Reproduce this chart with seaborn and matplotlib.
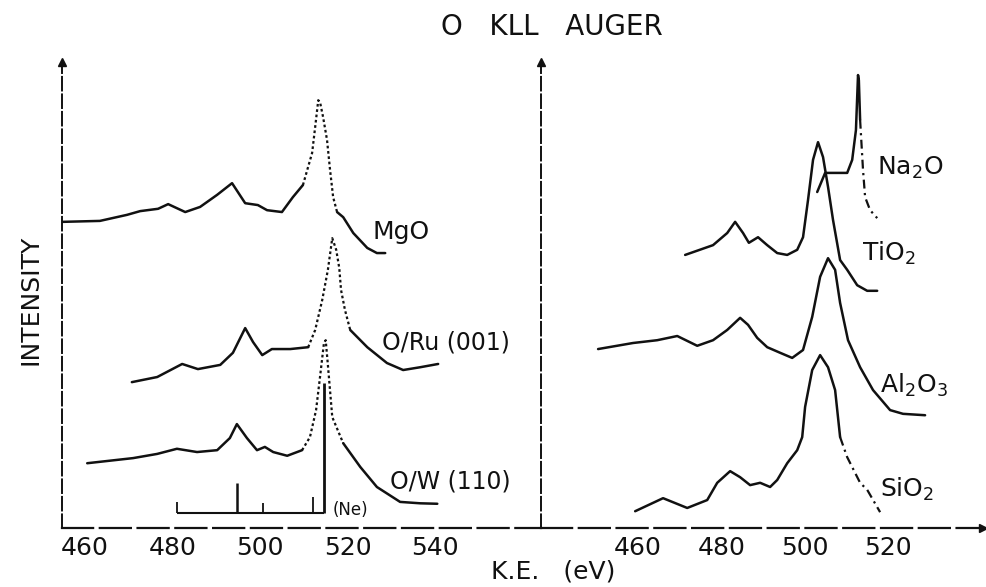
import matplotlib
matplotlib.use("Agg")
import matplotlib.pyplot as plt
import pandas as pd
import seaborn as sns

# ---------------- O KLL Auger spectra (kinetic energy in eV, stacked intensity in a.u.)
# left panel
mgo_energy = [455.0, 463.4, 469.6, 472.6, 476.7, 479.0, 482.9, 486.3, 490.2, 493.6,
              496.6, 499.5, 501.6, 505.0, 507.5, 509.8, 511.9, 512.6, 513.3, 513.7,
              514.4, 515.3, 516.0, 516.7, 517.6, 519.0, 521.3, 524.5, 526.7, 528.6]
mgo_intensity = [65.7, 65.9, 67.2, 68.0, 68.5, 69.5, 67.8, 68.9, 71.5, 74.0,
                 69.7, 69.3, 68.2, 67.8, 71.0, 73.6, 80.5, 86.1, 91.8, 91.4,
                 88.2, 83.3, 76.8, 71.0, 67.8, 66.7, 63.3, 60.1, 59.0, 59.0]

oru_energy = [470.7, 476.5, 482.2, 485.8, 490.9, 493.8, 496.6, 498.4, 500.5, 502.7,
              506.9, 511.0, 512.6, 514.2, 515.5, 516.5, 517.4, 518.1, 518.5, 519.4,
              520.6, 524.5, 529.0, 532.7, 536.6, 540.7]
oru_intensity = [31.3, 32.4, 35.2, 34.1, 35.0, 37.6, 42.9, 39.9, 37.1, 38.4,
                 38.4, 38.8, 42.5, 48.9, 55.4, 62.2, 59.7, 55.8, 51.1, 46.8,
                 42.5, 38.8, 35.4, 33.9, 34.5, 35.2]

ow_energy = [460.5, 471.0, 476.5, 481.0, 485.6, 490.2, 493.1, 494.7, 497.0, 499.3,
             501.1, 503.0, 506.2, 509.6, 511.4, 512.8, 513.7, 514.6, 515.0, 515.5,
             516.5, 519.0, 522.9, 526.7, 532.0, 536.6, 540.5]
ow_intensity = [13.9, 15.0, 15.9, 17.0, 16.3, 16.7, 19.3, 22.3, 19.3, 16.7,
                17.4, 16.3, 15.5, 16.7, 19.5, 25.3, 32.4, 39.7, 40.3, 35.0,
                23.8, 18.2, 13.1, 8.8, 5.6, 5.3, 5.2]

# Ne reference lines drawn under the O/W(110) spectrum
ne_energy = [481.0, 494.7, 500.7, 512.1, 514.6]
ne_top = [5.6, 9.6, 5.3, 6.6, 31.1]
ne_base = 3.2

# right panel
na2o_energy = [503.0, 504.9, 510.2, 511.4, 512.3, 512.8, 513.0, 513.3, 514.0, 514.5,
               515.7, 517.4]
na2o_intensity = [72.1, 76.2, 76.2, 79.0, 85.4, 97.2, 96.1, 87.6, 76.8, 71.0,
                  68.2, 66.5]

tio2_energy = [471.3, 478.0, 481.4, 483.3, 485.2, 486.6, 488.8, 491.0, 493.4, 495.8,
               498.2, 499.6, 500.8, 502.0, 503.2, 504.4, 505.6, 506.8, 508.5, 510.2,
               512.6, 515.0, 517.4]
tio2_intensity = [58.6, 60.7, 63.3, 65.7, 63.3, 61.2, 62.4, 60.7, 59.0, 58.6,
                  59.7, 62.4, 70.4, 79.0, 82.8, 79.6, 73.2, 66.1, 57.5, 55.4,
                  52.1, 50.9, 50.9]

al2o3_energy = [450.4, 458.8, 464.6, 469.4, 474.2, 478.0, 481.4, 484.5, 486.4, 488.6,
                491.0, 494.1, 497.0, 499.6, 501.8, 503.7, 505.6, 507.3, 508.5, 510.4,
                513.3, 516.4, 520.5, 523.6, 528.9]
al2o3_intensity = [38.4, 39.7, 40.3, 41.2, 39.1, 40.3, 42.5, 45.1, 43.6, 40.8,
                   38.8, 37.6, 36.5, 38.2, 45.3, 53.9, 57.9, 55.4, 48.3, 40.3,
                   34.5, 29.6, 25.3, 24.5, 24.2]

sio2_energy = [459.3, 466.0, 471.8, 476.6, 479.0, 482.1, 484.5, 486.9, 489.3, 491.7,
               493.4, 495.8, 498.2, 499.4, 500.1, 501.8, 503.7, 505.6, 507.3, 508.5,
               510.2, 513.3, 515.0, 518.1]
sio2_intensity = [3.6, 6.4, 4.3, 6.0, 9.7, 12.2, 10.9, 9.2, 9.7, 8.8,
                  10.3, 13.9, 16.7, 19.5, 26.0, 33.9, 37.1, 34.5, 29.6, 19.5,
                  15.2, 9.7, 8.2, 3.4]

left_ticks = [460, 480, 500, 520, 540]
right_ticks = [460, 480, 500, 520]

# ---------------- styling
sns.set_theme(style="white")
plt.rcParams["font.family"] = ["DejaVu Sans"]
plt.rcParams["mathtext.default"] = "regular"
plt.rcParams["lines.solid_joinstyle"] = "round"
plt.rcParams["lines.solid_capstyle"] = "round"

INK = "#111111"
LW = 1.8
DOT = (0, (1.2, 1.2))

W, H = 986, 587
fig = plt.figure(figsize=(W / 100, H / 100), dpi=100)
fig.patch.set_facecolor("white")

y0, y1 = 528, 62
ax_l = fig.add_axes([62 / W, (H - y0) / H, (541 - 62) / W, (y0 - y1) / H])
ax_r = fig.add_axes([541 / W, (H - y0) / H, (983 - 541) / W, (y0 - y1) / H])


def draw(ax, energy, intensity, alt=None, alt_style=DOT, alt_lw=1.6):
    """Draw one spectrum; the energy window `alt` gets a different dash style."""
    df = pd.DataFrame({"E": energy, "I": intensity})
    kw = dict(x="E", y="I", ax=ax, color=INK, sort=False, estimator=None, legend=False)
    if alt is None:
        sns.lineplot(data=df, lw=LW, **kw)
        return
    lo, hi = alt
    parts = [(df[df.E <= lo], "-", LW),
             (df[(df.E >= lo) & (df.E <= hi)], alt_style, alt_lw),
             (df[df.E >= hi], "-", LW)]
    for part, ls, lw in parts:
        if len(part) > 1:
            sns.lineplot(data=part, lw=lw, linestyle=ls, **kw)


# left panel spectra
draw(ax_l, mgo_energy, mgo_intensity, alt=(509.8, 517.6))
draw(ax_l, oru_energy, oru_intensity, alt=(511.0, 520.6))
draw(ax_l, ow_energy, ow_intensity, alt=(509.6, 519.0))

# Ne reference stick spectrum
ax_l.hlines(ne_base, ne_energy[0], ne_energy[-1], color=INK, lw=1.5)
ax_l.vlines(ne_energy, ne_base, ne_top, color=INK, lw=[1.3, 1.8, 1.3, 1.3, 2.0])

# right panel spectra
draw(ax_r, na2o_energy, na2o_intensity, alt=(513.3, 517.4), alt_style=(0, (4, 2, 1, 2)))
draw(ax_r, tio2_energy, tio2_intensity)
draw(ax_r, al2o3_energy, al2o3_intensity)
draw(ax_r, sio2_energy, sio2_intensity, alt=(508.5, 518.1), alt_style=(0, (4, 2, 1, 2)))

# axes, limits and ticks
ax_l.set_xlim(454.74, 564.2)
ax_r.set_xlim(436.7, 542.8)
for ax, ticks in ((ax_l, left_ticks), (ax_r, right_ticks)):
    ax.set_ylim(0, 100)
    ax.set_facecolor("none")
    ax.set_xlabel("")
    ax.set_ylabel("")
    ax.set_yticks([])
    ax.set_xticks(ticks)
    ax.set_xticklabels([str(t) for t in ticks])
    ax.tick_params(axis="x", direction="inout", length=7, width=1.2, colors=INK,
                   labelsize=18, pad=2)
    for side in ("top", "right"):
        ax.spines[side].set_visible(False)
    ax.spines["left"].set_color(INK)
    ax.spines["left"].set_linewidth(1.4)
    ax.spines["left"].set_linestyle((0, (7, 2)))
    ax.spines["bottom"].set_color(INK)
    ax.spines["bottom"].set_linewidth(1.6)
    ax.spines["bottom"].set_linestyle((0, (14, 3)))
    # arrow head at the top of the intensity axis
    ax.plot(0, 1, marker="^", ms=6, color=INK, transform=ax.transAxes, clip_on=False)
ax_r.plot(1, 0, marker=">", ms=6, color=INK, transform=ax_r.transAxes, clip_on=False)

# curve labels
lab = dict(color=INK, fontsize=18, va="center", ha="left")
ax_l.text(525.8, 63.5, "MgO", **lab)
ax_l.text(527.9, 39.9, "O/Ru (001)", **dict(lab, fontsize=17))
ax_l.text(529.7, 9.9, "O/W (110)", **dict(lab, fontsize=17))
ax_l.text(516.5, 3.9, "(Ne)", color=INK, fontsize=12, va="center", ha="left")

ax_r.text(517.4, 77.3, "Na$_2$O", **lab)
ax_r.text(513.8, 59.0, "TiO$_2$", **lab)
ax_r.text(518.1, 30.7, "Al$_2$O$_3$", **lab)
ax_r.text(518.1, 8.2, "SiO$_2$", **lab)

# title and axis titles
fig.text(552 / W, 1 - 27 / H, "O   KLL   AUGER", ha="center", va="center",
         fontsize=20, color=INK)
fig.text(553 / W, 1 - 571 / H, "K.E.   (eV)", ha="center", va="center",
         fontsize=18, color=INK)
fig.text(30 / W, 1 - 300 / H, "INTENSITY", ha="center", va="center", rotation=90,
         fontsize=18, color=INK)

fig.savefig("out.png", dpi=100, facecolor="white")
